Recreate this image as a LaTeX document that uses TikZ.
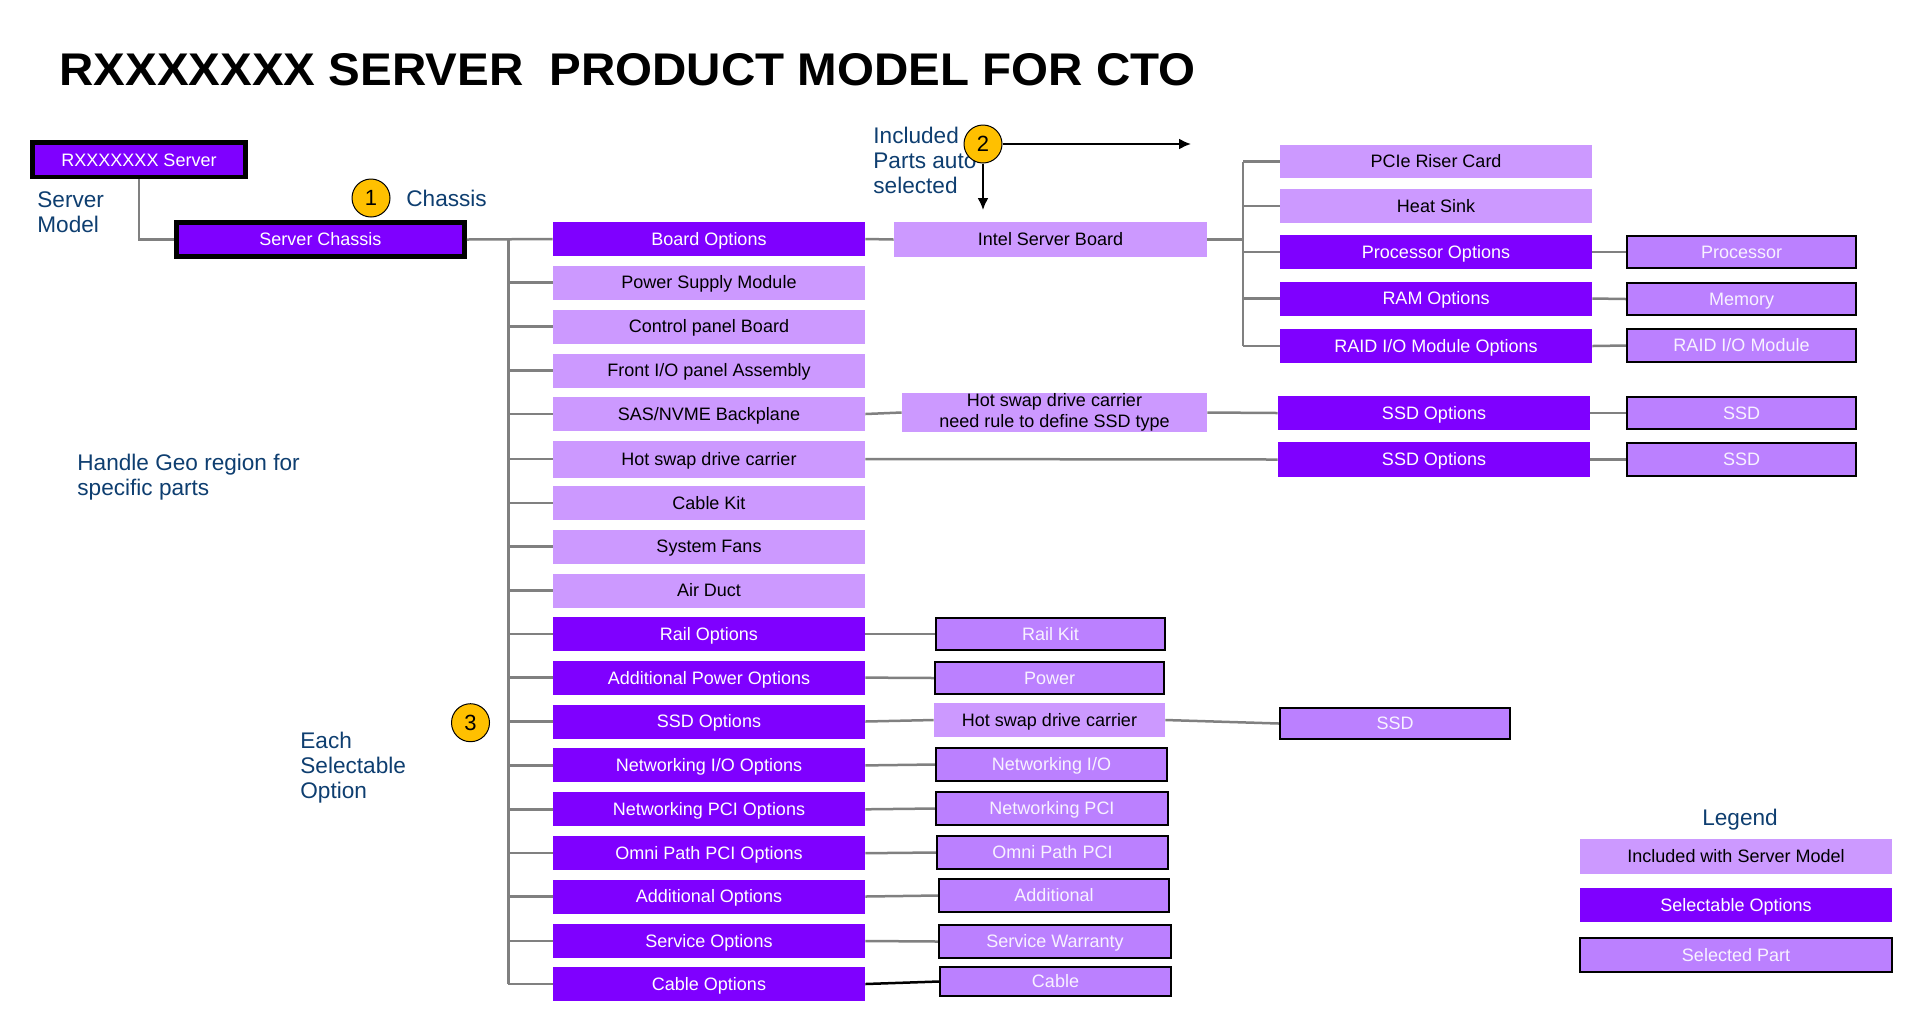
\documentclass[tikz,border=0pt]{standalone}
\usepackage{fontspec}
\setmainfont{Liberation Sans}
\usetikzlibrary{arrows.meta}
\definecolor{lightp}{RGB}{204,153,255}
\definecolor{darkp}{RGB}{127,0,255}
\definecolor{selp}{RGB}{187,128,255}
\definecolor{seltext}{RGB}{248,242,255}
\definecolor{annotc}{RGB}{14,62,112}
\definecolor{gold}{RGB}{255,192,0}
\definecolor{conngray}{RGB}{128,128,128}
\newcommand\drbox[7]{\node[#6, minimum width={((#4)-(#2))*0.5pt}, minimum height={((#5)-(#3))*0.5pt}] (#1) at ({((#2)+(#4))/2},{((#3)+(#5))/2}) {#7};}
\newcommand\midbox[4]{\drbox{#1}{553}{(#2)-17}{865}{(#2)+17}{#3}{#4}}
\tikzset{
  boxbase/.style={inner sep=0pt, font=\fontsize{9}{10.5}\selectfont, align=center, text height=6.45pt, text depth=0pt},
  incl/.style={boxbase, fill=lightp, text=black},
  opt/.style={boxbase, fill=darkp, text=white},
  sel/.style={boxbase, fill=selp, draw=black, line width=1.1pt, text=seltext},
  model/.style={boxbase, fill=darkp, draw=black, line width=2.4pt, text=white},
  conn/.style={draw=conngray, line width=1.25pt},
  annot/.style={text=annotc, font=\fontsize{11.3}{12.5}\selectfont, inner sep=0pt, align=left, anchor=west},
  badge/.style={circle, fill=gold, draw=black, line width=0.5pt, minimum size=19pt, inner sep=0pt, font=\fontsize{11}{12}\selectfont},
  arr/.style={draw=black, line width=1pt, -{Latex[length=6pt,width=5.5pt]}}
}
\begin{document}
\begin{tikzpicture}[x=0.5pt,y=-0.5pt]
\fill[white] (0,0) rectangle (1911,1030);
\useasboundingbox (0,0) rectangle (1911,1030);

% title
\node[anchor=north west, inner sep=0pt] (title) at (59,53) {\resizebox{568pt}{16pt}{\bfseries RXXXXXXX SERVER\ \ PRODUCT MODEL FOR CTO}};

% annotations
\node[annot] (smodel) at (37,212) {Server\\Model};
\node[annot] (chas) at (406,198) {Chassis};
\node[annot] (incl) at (873,160) {Included\\Parts auto-\\selected};
\node[annot] (geo) at (77,477) {Handle Geo region for\\specific parts};
\node[annot] (each) at (300,768) {Each\\Selectable\\Option};
\node[annot, anchor=center, align=center] (leg) at (1740,820) {Legend};

% model boxes
\drbox{rx}{32.5}{142.5}{245.5}{177}{model}{RXXXXXXX Server}
\drbox{ch}{176.5}{222.5}{464.5}{256.5}{model}{Server Chassis}

% middle column
\midbox{bo}{239}{opt}{Board Options}
\midbox{psm}{282.5}{incl}{Power Supply Module}
\midbox{cpb}{326.5}{incl}{Control panel Board}
\midbox{fio}{370.5}{incl}{Front I/O panel Assembly}
\midbox{sas}{414}{incl}{SAS/NVME Backplane}
\drbox{hsd}{553}{440.5}{865}{477.5}{incl}{Hot swap drive carrier}
\midbox{ck}{503}{incl}{Cable Kit}
\midbox{sf}{546.5}{incl}{System Fans}
\midbox{ad}{590.5}{incl}{Air Duct}
\midbox{ro}{634}{opt}{Rail Options}
\midbox{apo}{677.6}{opt}{Additional Power Options}
\midbox{sso}{721.5}{opt}{SSD Options}
\midbox{nio}{765.4}{opt}{Networking I/O Options}
\midbox{npci}{809.3}{opt}{Networking PCI Options}
\midbox{opo}{853.2}{opt}{Omni Path PCI Options}
\midbox{ao}{896.5}{opt}{Additional Options}
\midbox{so}{941}{opt}{Service Options}
\midbox{co}{984}{opt}{Cable Options}

% board and second level
\drbox{isb}{894}{222}{1207}{257}{incl}{Intel Server Board}
\drbox{hsr}{902}{393}{1207}{432}{incl, text height={}, text depth={}}{Hot swap drive carrier\\need rule to define SSD type}

\drbox{pcie}{1280}{145}{1592}{178}{incl}{PCIe Riser Card}
\drbox{hs}{1280}{189}{1592}{223}{incl}{Heat Sink}
\drbox{po}{1280}{235}{1592}{269}{opt}{Processor Options}
\drbox{ram}{1280}{281.5}{1592}{315.5}{opt}{RAM Options}
\drbox{raido}{1280}{329}{1592}{363}{opt}{RAID I/O Module Options}
\drbox{ssdo1}{1278}{396}{1590}{430}{opt}{SSD Options}
\drbox{ssdo2}{1278}{442}{1590}{477}{opt}{SSD Options}

\drbox{proc}{1627}{236}{1856}{268}{sel}{Processor}
\drbox{mem}{1627}{283}{1856}{315}{sel}{Memory}
\drbox{raid}{1627}{329}{1856}{362}{sel}{RAID I/O Module}
\drbox{ssd1}{1627}{397}{1856}{429}{sel}{SSD}
\drbox{ssd2}{1627}{443}{1856}{476}{sel}{SSD}

% lower right
\drbox{rk}{936}{618}{1165}{650}{sel}{Rail Kit}
\drbox{pw}{935}{662}{1164}{694}{sel}{Power}
\drbox{hsc}{934}{703}{1165}{737}{incl}{Hot swap drive carrier}
\drbox{ssd3}{1280}{708}{1510}{739}{sel}{SSD}
\drbox{nio2}{936}{748}{1167}{781}{sel}{Networking I/O}
\drbox{npci2}{936}{792}{1168}{825}{sel}{Networking PCI}
\drbox{op2}{937}{836}{1168}{869}{sel}{Omni Path PCI}
\drbox{add2}{939}{879}{1169}{912}{sel}{Additional}
\drbox{sw}{939}{925}{1171}{958}{sel}{Service Warranty}
\drbox{cab}{940}{967}{1171}{996}{sel}{Cable}

% legend
\drbox{l1}{1580}{839}{1892}{874}{incl}{Included with Server Model}
\drbox{l2}{1580}{888}{1892}{922}{opt}{Selectable Options}
\drbox{l3}{1580}{938}{1892}{972}{sel}{Selected Part}

% connectors
\draw[conn] (rx.south) |- (ch.west);
\draw[conn] (ch.east) -- (bo.west);
\coordinate (t0) at (508,239);
\coordinate (t1) at (508,984);
\draw[conn, line width=1.5pt] (t0) -- (t1);
\foreach \n in {psm,cpb,fio,sas,hsd,ck,sf,ad,ro,apo,sso,nio,npci,opo,ao,so,co}
  \draw[conn] (\n.west -| t0) -- (\n.west);
\draw[conn] (bo.east) -- (isb.west);
\coordinate (b0) at (1243,161.5);
\coordinate (b1) at (1243,346);
\draw[conn] (b0) -- (b1);
\draw[conn] (isb.east) -- (isb.east -| b0);
\foreach \n in {pcie,hs,po,ram,raido}
  \draw[conn] (\n.west -| b0) -- (\n.west);
\draw[conn] (po.east) -- (proc.west);
\draw[conn] (ram.east) -- (mem.west);
\draw[conn] (raido.east) -- (raid.west);
\draw[conn] (sas.east) -- (hsr.west);
\draw[conn] (hsr.east) -- (ssdo1.west);
\draw[conn] (ssdo1.east) -- (ssd1.west);
\draw[conn] (hsd.east) -- (ssdo2.west);
\draw[conn] (ssdo2.east) -- (ssd2.west);
\draw[conn] (ro.east) -- (rk.west);
\draw[conn] (apo.east) -- (pw.west);
\draw[conn] (sso.east) -- (hsc.west);
\draw[conn] (hsc.east) -- (ssd3.west);
\draw[conn] (nio.east) -- (nio2.west);
\draw[conn] (npci.east) -- (npci2.west);
\draw[conn] (opo.east) -- (op2.west);
\draw[conn] (ao.east) -- (add2.west);
\draw[conn] (so.east) -- (sw.west);
\draw[conn, draw=black] (co.east) -- (cab.west);

% badges
\node[badge] (c1) at (371,198) {1};
\node[badge] (c2) at (983,144) {2};
\node[badge] (c3) at (470.5,722.7) {3};
\coordinate (a1) at (1191,144);
\coordinate (a2) at (983,210);
\draw[arr] (c2.east) -- (a1);
\draw[arr] (c2.south) -- (a2);
\end{tikzpicture}
\end{document}
